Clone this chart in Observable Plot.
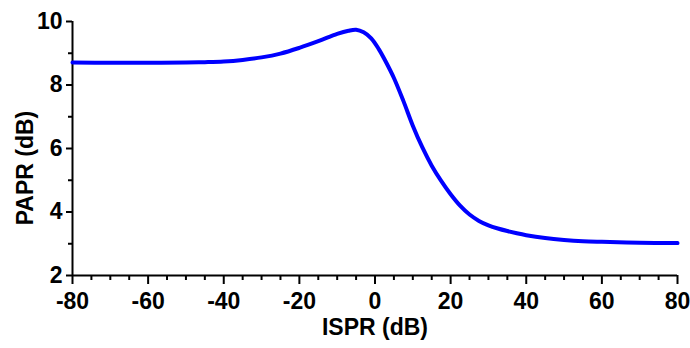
<!DOCTYPE html>
<html>
<head>
<meta charset="utf-8">
<script src="https://cdn.jsdelivr.net/npm/d3@7"></script>
<script src="https://cdn.jsdelivr.net/npm/@observablehq/plot@0.6"></script>
<style>
  html, body { margin: 0; padding: 0; background: #fff; }
  #chart { width: 690px; height: 348px; }
</style>
</head>
<body>
<div id="chart"></div>
<script>
// ISPR (dB) vs PAPR (dB)
const ispr = [-80, -70, -60, -50, -45, -40, -35, -30, -25, -20, -15, -10, -7, -5, -3, -1, 1, 3, 5, 7.5, 10, 12.5, 15, 17.5, 20, 22.5, 25, 27.5, 30, 32.5, 35, 37.5, 40, 45, 50, 55, 60, 70, 80];
const papr = [8.71, 8.70, 8.70, 8.71, 8.72, 8.74, 8.79, 8.87, 8.99, 9.17, 9.38, 9.61, 9.71, 9.74, 9.66, 9.47, 9.13, 8.70, 8.22, 7.50, 6.72, 6.04, 5.46, 4.98, 4.56, 4.20, 3.92, 3.72, 3.58, 3.48, 3.40, 3.33, 3.27, 3.18, 3.12, 3.08, 3.06, 3.03, 3.02];

const xMajorTicks = [-80, -60, -40, -20, 0, 20, 40, 60, 80];
const xMinorTicks = [-75, -70, -65, -55, -50, -45, -35, -30, -25, -15, -10, -5, 5, 10, 15, 25, 30, 35, 45, 50, 55, 65, 70, 75];
const yMajorTicks = [2, 4, 6, 8, 10];
const yMinorTicks = [3, 5, 7, 9];
const xLabel = "ISPR (dB)";
const yLabel = "PAPR (dB)";

const data = ispr.map((x, i) => ({x, y: papr[i]}));

const plot = Plot.plot({
  width: 690,
  height: 348,
  marginLeft: 72,
  marginRight: 13,
  marginTop: 21,
  marginBottom: 73,
  style: {fontFamily: "'Liberation Sans', Arial, sans-serif", fontWeight: "bold", fontSize: "23px", color: "#000", background: "#fff"},
  x: {domain: [-80, 80]},
  y: {domain: [2, 10]},
  marks: [
    Plot.axisX(xMajorTicks, {tickSize: 9, tickPadding: 8, tickFormat: d => String(d), strokeWidth: 2, stroke: "#000", label: null, fontSize: 23}),
    Plot.axisX(xMinorTicks, {tickSize: 5, text: null, strokeWidth: 2, stroke: "#000", label: null}),
    Plot.axisY(yMajorTicks, {tickSize: 6, tickPadding: 4, tickFormat: d => String(d), strokeWidth: 2, stroke: "#000", label: null, fontSize: 23}),
    Plot.axisY(yMinorTicks, {tickSize: 4, text: null, strokeWidth: 2, stroke: "#000", label: null}),
    Plot.ruleY([2], {stroke: "#000", strokeWidth: 2}),
    Plot.ruleX([-80], {stroke: "#000", strokeWidth: 2}),
    Plot.line(data, {x: "x", y: "y", stroke: "#0000ff", strokeWidth: 4, curve: "catmull-rom"})
  ]
});

const svg = d3.select(plot);
svg.append("text")
  .attr("x", 375).attr("y", 335)
  .attr("text-anchor", "middle")
  .attr("font-size", 23).attr("font-weight", "bold").attr("fill", "#000")
  .text(xLabel);
svg.append("text")
  .attr("transform", "translate(33,168) rotate(-90)")
  .attr("text-anchor", "middle")
  .attr("font-size", 23).attr("font-weight", "bold").attr("fill", "#000")
  .text(yLabel);

document.getElementById("chart").appendChild(plot);
</script>
</body>
</html>
